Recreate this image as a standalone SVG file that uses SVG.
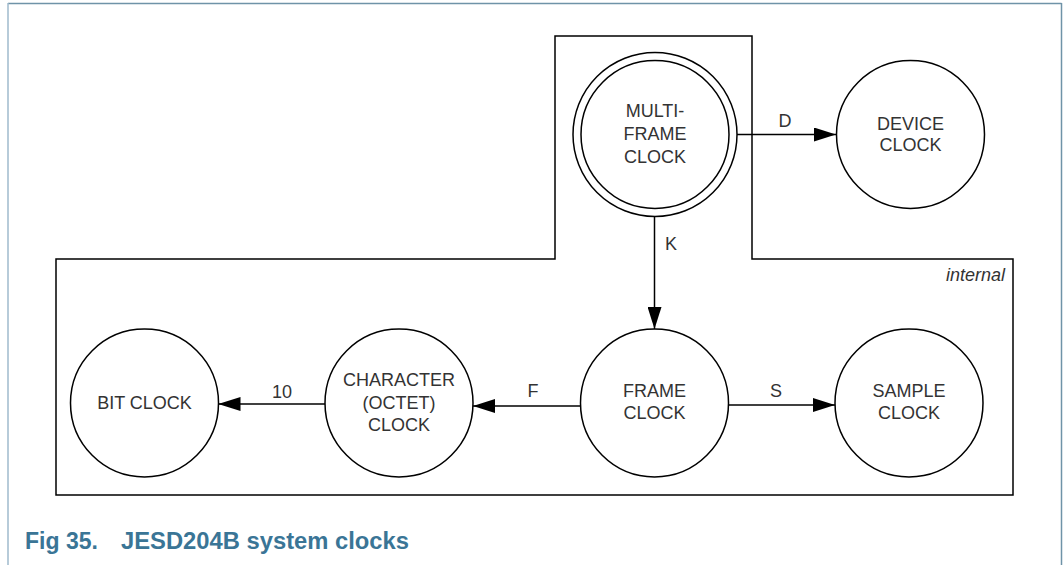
<svg xmlns="http://www.w3.org/2000/svg" width="1063" height="565" viewBox="0 0 1063 565">
<style>
.node{fill:#fff;stroke:#000;stroke-width:1.5}
.lbl{font-family:"Liberation Sans",Arial,sans-serif;font-size:18px;fill:#333;text-anchor:middle}
.edge{stroke:#000;stroke-width:1.5;fill:none}
.cap{font-family:"Liberation Sans",Arial,sans-serif;font-size:23px;font-weight:bold;fill:#3a7596}
</style>
<defs>
<marker id="ah" viewBox="0 0 22 14" refX="22" refY="7" markerWidth="22" markerHeight="14" markerUnits="userSpaceOnUse" orient="auto">
<path d="M0,0 L22,7 L0,14 Z" fill="#000"/>
</marker>
</defs>
<rect width="1063" height="565" fill="#fff"/>
<g id="frame-border">
<line x1="8" y1="3.5" x2="1061.5" y2="3.5" stroke="#6f93a8" stroke-width="1.5"/>
<line x1="8" y1="3" x2="8" y2="565" stroke="#9fbacd" stroke-width="1.5"/>
<line x1="1061.5" y1="3" x2="1061.5" y2="565" stroke="#6f93a8" stroke-width="1.5"/>
</g>
<g id="internal">
<path d="M555,36 H752 V259 H1013 V495 H56 V259 H555 Z" fill="none" stroke="#000" stroke-width="1.5"/>
<text x="1005" y="281" style="font-family:'Liberation Sans',Arial,sans-serif;font-size:18px;font-style:italic;fill:#333" text-anchor="end">internal</text>
</g>
<g id="connectors">
<line class="edge" x1="737" y1="134.5" x2="836" y2="134.5" marker-end="url(#ah)"/>
<text class="lbl" x="785" y="127">D</text>
<line class="edge" x1="654.5" y1="217" x2="654.5" y2="329" marker-end="url(#ah)"/>
<text class="lbl" x="671" y="250">K</text>
<line class="edge" x1="728" y1="405" x2="835" y2="405" marker-end="url(#ah)"/>
<text class="lbl" x="776" y="397">S</text>
<line class="edge" x1="580" y1="406" x2="473" y2="406" marker-end="url(#ah)"/>
<text class="lbl" x="533" y="397">F</text>
<line class="edge" x1="325" y1="404" x2="218.5" y2="404" marker-end="url(#ah)"/>
<text class="lbl" x="282" y="398">10</text>
</g>
<g id="multiframe-clock">
<circle class="node" cx="655" cy="134.5" r="82"/>
<circle class="node" cx="655" cy="134.5" r="74"/>
<text class="lbl" x="655" y="116.5">MULTI-</text>
<text class="lbl" x="655" y="140">FRAME</text>
<text class="lbl" x="655" y="163">CLOCK</text>
</g>
<g id="device-clock">
<circle class="node" cx="910.5" cy="134.5" r="74"/>
<text class="lbl" x="910.5" y="129.5">DEVICE</text>
<text class="lbl" x="910.5" y="151">CLOCK</text>
</g>
<g id="frame-clock">
<circle class="node" cx="654.5" cy="403" r="74"/>
<text class="lbl" x="654.5" y="397">FRAME</text>
<text class="lbl" x="654.5" y="419">CLOCK</text>
</g>
<g id="sample-clock">
<circle class="node" cx="909" cy="403" r="74"/>
<text class="lbl" x="909" y="397">SAMPLE</text>
<text class="lbl" x="909" y="419">CLOCK</text>
</g>
<g id="character-clock">
<circle class="node" cx="399" cy="403" r="74"/>
<text class="lbl" x="399" y="386">CHARACTER</text>
<text class="lbl" x="399" y="408.5">(OCTET)</text>
<text class="lbl" x="399" y="431">CLOCK</text>
</g>
<g id="bit-clock">
<circle class="node" cx="144.5" cy="403" r="74"/>
<text class="lbl" x="144.5" y="408.5">BIT CLOCK</text>
</g>
<g id="caption">
<text class="cap" x="25" y="549">Fig 35.</text>
<text class="cap" x="121" y="549" textLength="288" lengthAdjust="spacingAndGlyphs">JESD204B system clocks</text>
</g>
</svg>
